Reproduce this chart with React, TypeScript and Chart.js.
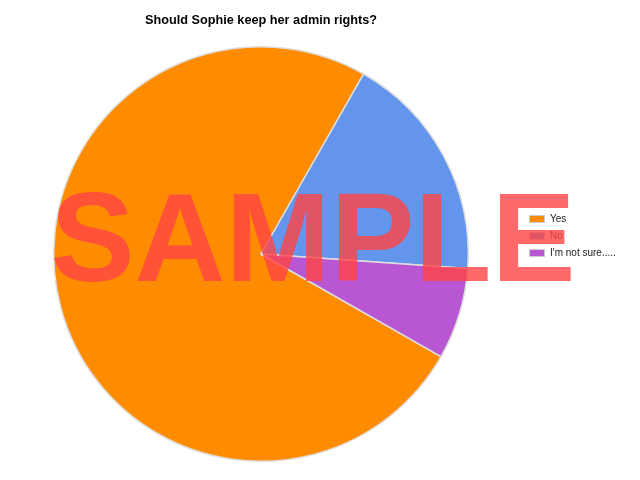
import { useEffect, useRef } from 'react'
import Chart from 'chart.js/auto'

const labels = ['Yes', 'No', "I'm not sure....."]
const votes = [21, 5, 2]
const colors = ['#ff8c00', '#6495ed', '#b856d3']

const font = 'Arial, "Liberation Sans", sans-serif'

export default function App() {
  const ref = useRef<HTMLCanvasElement>(null)

  useEffect(() => {
    document.body.style.margin = '0'
    if (!ref.current) return
    const chart = new Chart(ref.current, {
      type: 'pie',
      data: {
        labels,
        datasets: [
          {
            data: votes,
            backgroundColor: colors,
            borderColor: '#dedede',
            borderWidth: 1.5,
          },
        ],
      },
      options: {
        animation: false,
        responsive: false,
        rotation: 119.7,
        layout: { padding: { left: 53, right: 171, top: 46, bottom: 18 } },
        plugins: { legend: { display: false }, tooltip: { enabled: false } },
      },
    })
    return () => chart.destroy()
  }, [])

  return (
    <div style={{ position: 'relative', width: 640, height: 480, background: '#fff', fontFamily: font, overflow: 'hidden' }}>
      <canvas ref={ref} width={640} height={480} style={{ position: 'absolute', left: 0, top: 0 }} />
      <div style={title}>Should Sophie keep her admin rights?</div>
      <div style={{ position: 'absolute', left: 529, top: 212, display: 'grid', gap: 4 }}>
        {labels.map((l, i) => (
          <div key={l} style={{ display: 'flex', alignItems: 'center', gap: 5, fontSize: 10, height: 13, color: '#222' }}>
            <span style={{ width: 14, height: 6, background: colors[i], border: '1px solid #ccc' }} />
            {l}
          </div>
        ))}
      </div>
      <div style={watermark}>SAMPLE</div>
    </div>
  )
}

const title: React.CSSProperties = {
  position: 'absolute',
  left: 61,
  width: 400,
  top: 13,
  textAlign: 'center',
  fontSize: 12.7,
  fontWeight: 700,
  color: '#000',
}

const watermark: React.CSSProperties = {
  position: 'absolute',
  left: 0,
  width: 626,
  top: 163,
  textAlign: 'center',
  fontSize: 126,
  fontWeight: 700,
  lineHeight: '150px',
  color: 'rgba(255,68,68,0.8)',
  fontFamily: '"Liberation Sans", Arial, sans-serif',
}
